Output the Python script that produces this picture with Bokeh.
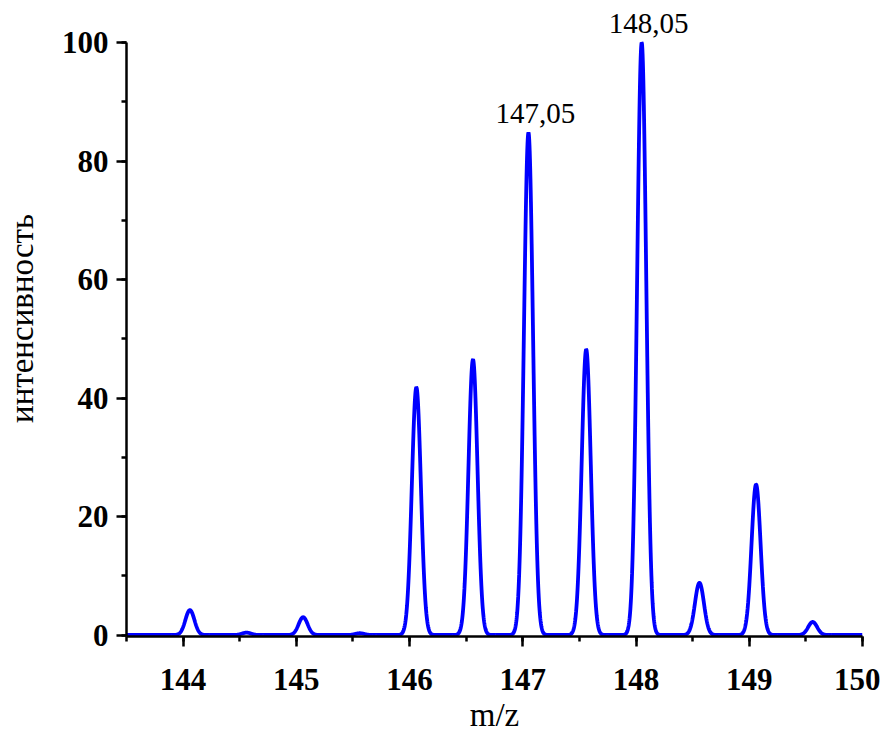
import numpy as np
from bokeh.plotting import figure
from bokeh.models import Range1d, Label, FixedTicker
from bokeh.embed import file_html
from bokeh.resources import INLINE

# Peak list (m/z, relative intensity)
peak_mz = [144.06, 144.56, 145.06, 145.56, 146.06, 146.56, 147.05, 147.56, 148.05, 148.56, 149.06, 149.56]
peak_int = [4.2, 0.4, 3.0, 0.3, 41.8, 46.5, 84.8, 48.2, 100.0, 8.8, 25.4, 2.2]
peak_sigma = 0.04  # instrument peak width (m/z)

# Annotated peaks
ann_mz = [147.05, 148.05]
ann_int = [84.8, 100.0]
ann_text = ["147,05", "148,05"]

x_ticks = [144, 145, 146, 147, 148, 149, 150]
y_ticks = [0, 20, 40, 60, 80, 100]

# profile spectrum built from the peak list
mz = np.linspace(143.5, 150.0, 3000)
intensity = np.zeros_like(mz)
for c, h in zip(peak_mz, peak_int):
    intensity += h * np.exp(-0.5 * ((mz - c) / peak_sigma) ** 2)

p = figure(width=880, height=736, output_backend="svg", toolbar_location=None,
           x_range=Range1d(143.5, 150.0), y_range=Range1d(-0.25, 107.1),
           min_border_left=126, min_border_top=0, min_border_right=18, min_border_bottom=100)
p.outline_line_color = None
p.grid.visible = False
p.background_fill_color = "white"
p.border_fill_color = "white"

p.line(mz, intensity, line_color="#0000FF", line_width=3.8)

for xa, ya, t in zip(ann_mz, ann_int, ann_text):
    p.add_layout(Label(x=xa, y=ya, text=t, x_offset=7, y_offset=19,
                       text_align="center", text_baseline="alphabetic",
                       text_font="Liberation Serif", text_font_size="29px",
                       text_color="black"))

FONT = "Liberation Serif"
p.xaxis.ticker = FixedTicker(ticks=x_ticks, minor_ticks=[143.5 + 0.5 * i for i in range(14)])
p.yaxis.ticker = FixedTicker(ticks=y_ticks, minor_ticks=[10 * i for i in range(11)])
p.yaxis.bounds = (-0.25, 100)
p.xaxis.axis_label = "m/z"
p.yaxis.axis_label = "интенсивность"
for ax in (p.xaxis, p.yaxis):
    ax.axis_line_width = 2.5
    ax.axis_line_color = "black"
    ax.major_tick_line_width = 2.5
    ax.minor_tick_line_width = 2.5
    ax.major_tick_out = 10
    ax.major_tick_in = 0
    ax.minor_tick_out = 5
    ax.minor_tick_in = 0
    ax.major_label_text_font = FONT
    ax.major_label_text_font_style = "bold"
    ax.major_label_text_font_size = "31px"
    ax.major_label_text_color = "black"
    ax.axis_label_text_font = FONT
    ax.axis_label_text_font_style = "normal"
    ax.axis_label_text_font_size = "33px"
    ax.axis_label_text_color = "black"
p.yaxis.major_label_standoff = 8
p.xaxis.major_label_standoff = 22
p.yaxis.axis_label_standoff = 19
p.xaxis.axis_label_standoff = 4

open("out.html", "w").write(file_html(p, INLINE))
